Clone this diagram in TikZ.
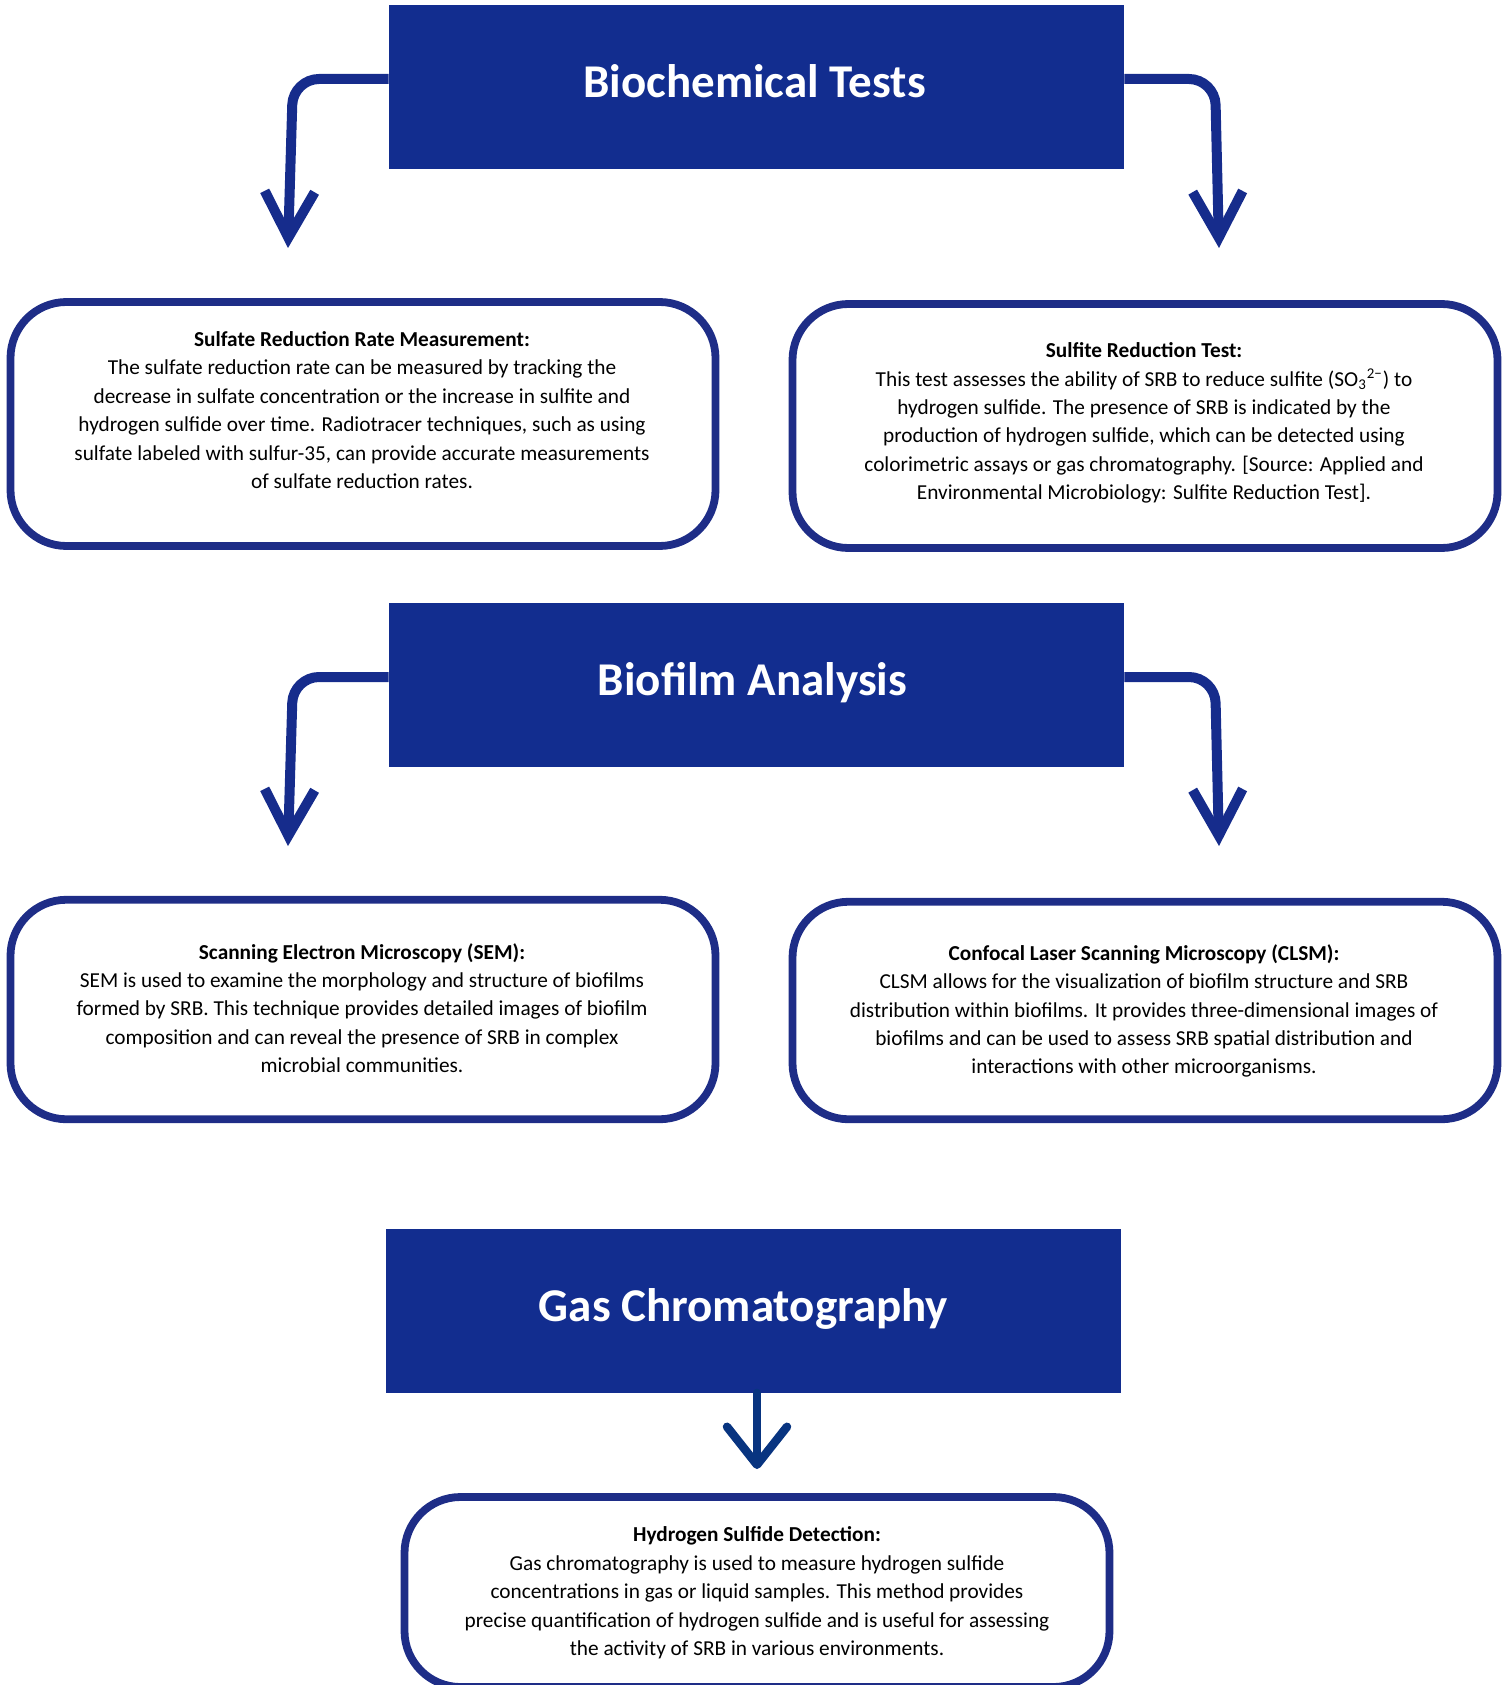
\documentclass[tikz,border=0pt]{standalone}
\usepackage{fontspec}
\setmainfont{Carlito}
\usetikzlibrary{arrows.meta}
\definecolor{titlefill}{RGB}{18,45,143}
\definecolor{boxline}{RGB}{30,45,135}
\definecolor{arrowc}{RGB}{22,44,140}
\definecolor{gasarrow}{RGB}{8,52,128}
\begin{document}
\begin{tikzpicture}[x=0.5pt,y=-0.5pt,
  titlebox/.style={fill=titlefill, minimum width=367.5pt, minimum height=82pt, inner sep=0pt,
    text=white, text height=16pt, text depth=5pt, font=\fontsize{23.5pt}{28pt}\selectfont\bfseries},
  infobox/.style={draw=boxline, line width=3.9pt, rounded corners=28pt, minimum width=352.5pt, inner sep=0pt},
  infotext/.style={align=center, font=\fontsize{10.65pt}{14.2pt}\selectfont, inner sep=0pt},
  conn/.style={draw=arrowc, line width=5pt, rounded corners=13pt, -{Straight Barb[length=23pt,width=25pt]}},
  gasconn/.style={draw=gasarrow, line width=4.25pt, line cap=round, -{Straight Barb[length=19pt,width=30pt,round]}},
]
\useasboundingbox (0,0) rectangle (1505,1685);

% title boxes
\node[titlebox] (bt) at (756.5,87) {Biochemical Tests\kern2pt};
\node[titlebox] (bf) at (756.5,684.5) {Biofilm Analysis\kern4pt};
\node[titlebox] (gc) at (753.5,1310.5) {Gas Chromatography\kern10pt};

% info boxes
\node[infobox, minimum height=122pt] (s1) at (363,424) {};
\node[infobox, minimum height=122pt] (s2) at (1145,426) {};
\node[infobox, minimum height=109.75pt] (s3) at (363,1009.5) {};
\node[infobox, minimum height=108.75pt] (s4) at (1145,1010.5) {};
\node[infobox, minimum height=95pt] (s5) at (757,1592) {};

% texts
\node[infotext] (s1t) at (362,410) {\textbf{Sulfate Reduction Rate Measurement:}\\
The sulfate reduction rate can be measured by tracking the\\
decrease in sulfate concentration or the increase in sulfite and\\
hydrogen sulfide over time. Radiotracer techniques, such as using\\
sulfate labeled with sulfur-35, can provide accurate measurements\\
of sulfate reduction rates.};
\node[infotext] (s2t) at (1144,423) {\textbf{Sulfite Reduction Test:}\\
This test assesses the ability of SRB to reduce sulfite (SO\textsubscript{3}\textsuperscript{2−}) to\\
hydrogen sulfide. The presence of SRB is indicated by the\\
production of hydrogen sulfide, which can be detected using\\
colorimetric assays or gas chromatography. [Source: Applied and\\
Environmental Microbiology: Sulfite Reduction Test].};
\node[infotext] (s3t) at (362,1008) {\textbf{Scanning Electron Microscopy (SEM):}\\
SEM is used to examine the morphology and structure of biofilms\\
formed by SRB. This technique provides detailed images of biofilm\\
composition and can reveal the presence of SRB in complex\\
microbial communities.};
\node[infotext] (s4t) at (1144,1011) {\textbf{Confocal Laser Scanning Microscopy (CLSM):}\\
CLSM allows for the visualization of biofilm structure and SRB\\
distribution within biofilms. It provides three-dimensional images of\\
biofilms and can be used to assess SRB spatial distribution and\\
interactions with other microorganisms.};
\node[infotext] (s5t) at (757,1593) {\textbf{Hydrogen Sulfide Detection:}\\
Gas chromatography is used to measure hydrogen sulfide\\
concentrations in gas or liquid samples. This method provides\\
precise quantification of hydrogen sulfide and is useful for assessing\\
the activity of SRB in various environments.};

% connectors
\coordinate (c1) at (293,79);   \coordinate (t1) at (288,248);
\coordinate (c2) at (1215,79);  \coordinate (t2) at (1219,248);
\coordinate (c3) at (293,677);  \coordinate (t3) at (288,846);
\coordinate (c4) at (1215,677); \coordinate (t4) at (1219,846);
\coordinate (t5) at (757,1469);

\draw[conn] ([yshift=4pt]bt.west) -- (c1) -- (t1);
\draw[conn] ([yshift=4pt]bt.east) -- (c2) -- (t2);
\draw[conn] ([yshift=3.75pt]bf.west) -- (c3) -- (t3);
\draw[conn] ([yshift=3.75pt]bf.east) -- (c4) -- (t4);
\draw[gasconn] (gc.south -| t5) -- (t5);
\end{tikzpicture}
\end{document}
